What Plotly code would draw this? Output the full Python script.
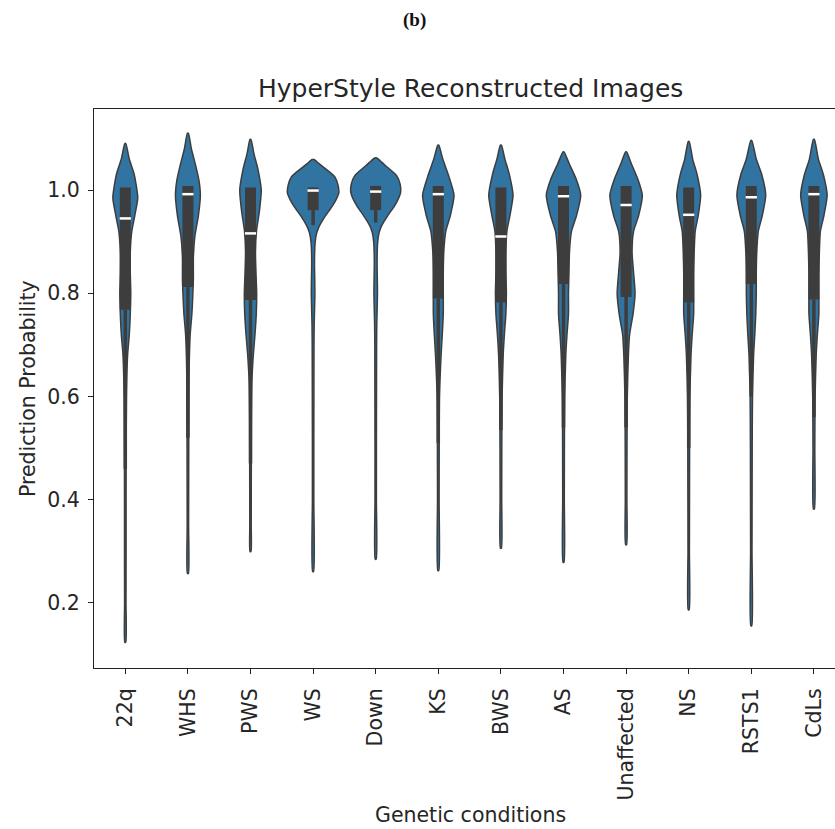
import plotly.graph_objects as go

# ---------------- data ----------------
categories = ["22q", "WHS", "PWS", "WS", "Down", "KS", "BWS", "AS",
              "Unaffected", "NS", "RSTS1", "CdLs"]

# estimated density profile of each violin: value grid (top -> bottom) and relative density
profile_values = [
    [1.090, 1.06, 1.03, 0.985, 0.95, 0.92, 0.88, 0.84, 0.80, 0.76, 0.72, 0.68, 0.60, 0.50, 0.40, 0.30, 0.20, 0.124],
    [1.110, 1.08, 1.05, 1.02, 0.99, 0.95, 0.91, 0.87, 0.83, 0.80, 0.76, 0.72, 0.65, 0.55, 0.45, 0.35, 0.257],
    [1.098, 1.07, 1.04, 1.00, 0.96, 0.92, 0.88, 0.84, 0.80, 0.76, 0.72, 0.68, 0.63, 0.55, 0.45, 0.35, 0.300],
    [1.059, 1.051, 1.045, 1.026, 1.010, 0.994, 0.981, 0.968, 0.949, 0.929, 0.916, 0.897, 0.86, 0.82, 0.80, 0.78, 0.74, 0.70, 0.60, 0.50, 0.40, 0.261],
    [1.062, 1.054, 1.047, 1.028, 1.012, 0.995, 0.982, 0.968, 0.950, 0.931, 0.918, 0.899, 0.86, 0.82, 0.80, 0.78, 0.74, 0.70, 0.60, 0.50, 0.40, 0.285],
    [1.087, 1.06, 1.03, 0.99, 0.95, 0.92, 0.88, 0.84, 0.80, 0.76, 0.72, 0.68, 0.60, 0.50, 0.40, 0.263],
    [1.087, 1.06, 1.03, 0.99, 0.95, 0.92, 0.88, 0.84, 0.80, 0.76, 0.72, 0.68, 0.60, 0.50, 0.40, 0.306],
    [1.074, 1.05, 1.02, 0.99, 0.95, 0.92, 0.88, 0.84, 0.80, 0.76, 0.72, 0.68, 0.60, 0.50, 0.40, 0.279],
    [1.074, 1.05, 1.02, 0.99, 0.95, 0.92, 0.88, 0.84, 0.80, 0.76, 0.72, 0.68, 0.60, 0.50, 0.40, 0.313],
    [1.094, 1.06, 1.03, 0.99, 0.95, 0.92, 0.88, 0.84, 0.80, 0.76, 0.72, 0.68, 0.60, 0.50, 0.40, 0.30, 0.187],
    [1.096, 1.06, 1.03, 0.99, 0.95, 0.92, 0.88, 0.84, 0.80, 0.76, 0.72, 0.68, 0.60, 0.50, 0.40, 0.30, 0.156],
    [1.098, 1.06, 1.03, 0.99, 0.95, 0.92, 0.88, 0.84, 0.80, 0.76, 0.72, 0.68, 0.60, 0.50, 0.382],
]
profile_density = [
    [0.5, 4, 9, 12.5, 9.5, 6.5, 5, 5, 5.5, 5, 4, 2.3, 1.2, 0.9, 0.8, 0.8, 0.7, 0.5],
    [0.5, 3.5, 7.5, 11, 12.5, 10.5, 7, 5.5, 5.5, 5, 4, 2.3, 1.2, 0.9, 0.8, 0.7, 0.5],
    [0.5, 3.5, 7.5, 10.8, 9, 6, 5, 5.5, 6.2, 5.8, 4.5, 2.8, 1.4, 0.9, 0.8, 0.7, 0.5],
    [1, 6, 10, 21.7, 25, 25.8, 23, 19, 12, 6, 3.5, 2.0, 1.4, 1.7, 1.8, 1.6, 1.1, 0.9, 0.8, 0.7, 0.7, 0.5],
    [1, 6, 10, 21, 24.5, 25, 22.5, 18.5, 12, 6, 3.5, 2.0, 1.4, 1.7, 1.8, 1.6, 1.1, 0.9, 0.8, 0.7, 0.7, 0.5],
    [0.5, 4.5, 10, 15.8, 12, 7.5, 5.5, 5, 5, 5, 4, 2.8, 1.2, 0.9, 0.8, 0.5],
    [0.5, 4, 8.5, 12.2, 9, 6, 5, 5, 5.5, 5, 3.5, 2.3, 1.2, 0.9, 0.8, 0.5],
    [0.5, 6, 13, 17.3, 13, 8, 6, 5.5, 5, 5, 3.5, 2.3, 1.2, 0.9, 0.8, 0.5],
    [0.5, 5.5, 12, 16.3, 12.5, 7.5, 6, 7.5, 9, 7, 3.5, 2.3, 1.2, 0.9, 0.8, 0.5],
    [0.5, 4, 8.5, 12, 9.5, 6.5, 5.5, 5, 5, 5, 3.5, 2.3, 1.2, 0.9, 0.8, 0.7, 0.5],
    [0.5, 5, 10.5, 14.5, 11, 7, 5.5, 5, 5, 4.5, 3.5, 2.3, 1.2, 0.9, 0.8, 0.7, 0.5],
    [0.5, 4.5, 9.5, 13.3, 10, 6.5, 5.5, 5, 5, 5, 3.5, 2.3, 1.2, 0.9, 0.5],
]

q1 = [0.768, 0.812, 0.787, 0.961, 0.961, 0.790, 0.782, 0.818, 0.793, 0.782, 0.818, 0.788]
median = [0.945, 0.992, 0.916, 0.999, 0.997, 0.992, 0.910, 0.988, 0.971, 0.952, 0.986, 0.992]
q3 = [1.005, 1.008, 1.005, 1.005, 1.008, 1.008, 1.005, 1.008, 1.008, 1.005, 1.008, 1.008]
whisker_low = [0.46, 0.52, 0.47, 0.932, 0.937, 0.51, 0.535, 0.54, 0.54, 0.50, 0.60, 0.56]

y_ticks = [0.2, 0.4, 0.6, 0.8, 1.0]
y_tick_labels = ["0.2", "0.4", "0.6", "0.8", "1.0"]

# ---------------- styling ----------------
VIOLIN_FILL = "#3274a1"
DARK = "#3d3d3d"
TEXT = "#262626"
MAX_HALF_WIDTH = 0.41  # category units for the widest violin
max_density = max(max(d) for d in profile_density)
scale = MAX_HALF_WIDTH / max_density

W, H = 835, 829
PL, PR, PT, PB = 94, 835, 109, 668   # plot area in pixels


def px_to_paper(px, py):
    return (px - PL) / (PR - PL), (PB - py) / (PB - PT)


fig = go.Figure()

for i, cat in enumerate(categories):
    vals = profile_values[i]
    dens = profile_density[i]
    xs = [i + d * scale for d in dens] + [i - d * scale for d in reversed(dens)]
    ys = list(vals) + list(reversed(vals))
    xs.append(xs[0])
    ys.append(ys[0])
    fig.add_trace(go.Scatter(
        x=xs, y=ys, mode="lines", fill="toself", fillcolor=VIOLIN_FILL,
        line=dict(color=DARK, width=1.5, shape="spline", smoothing=0.6),
        hoverinfo="skip", showlegend=False))
    # whisker
    fig.add_trace(go.Scatter(
        x=[i, i], y=[whisker_low[i], q1[i]], mode="lines",
        line=dict(color=DARK, width=3.5), hoverinfo="skip", showlegend=False))
    # box
    fig.add_trace(go.Scatter(
        x=[i, i], y=[q1[i], q3[i]], mode="lines",
        line=dict(color=DARK, width=11), hoverinfo="skip", showlegend=False))
    # median
    fig.add_trace(go.Scatter(
        x=[i], y=[median[i]], mode="markers",
        marker=dict(symbol="line-ew", size=8, line=dict(color="white", width=2.5)),
        hoverinfo="skip", showlegend=False))

font_family = "DejaVu Sans"
bx, by = px_to_paper(414, 20)
tx, ty = px_to_paper(470, 88)
xlx, xly = px_to_paper(470, 815)
ylx, yly = px_to_paper(28, 389)

fig.update_layout(
    width=W, height=H,
    margin=dict(l=PL, r=W - PR, t=PT, b=H - PB),
    paper_bgcolor="white", plot_bgcolor="white",
    font=dict(family=font_family, color=TEXT),
    showlegend=False,
    xaxis=dict(
        range=[-0.5, -0.5 + (PR - PL) / 62.6], tickmode="array",
        tickvals=list(range(len(categories))),
        ticktext=categories, tickangle=-90, showgrid=False, zeroline=False,
        showline=True, linecolor="#222", linewidth=1.2, mirror=True,
        ticks="outside", ticklen=5, tickcolor="#222", tickwidth=1,
        ticklabelstandoff=6,
        tickfont=dict(size=20.5, family=font_family, color=TEXT)),
    yaxis=dict(
        range=[0.074, 1.157], tickmode="array", tickvals=y_ticks, ticktext=y_tick_labels,
        showgrid=False, zeroline=False, showline=True, linecolor="#222", linewidth=1.2,
        ticks="outside", ticklen=5, tickcolor="#222", tickwidth=1,
        ticklabelstandoff=4,
        tickfont=dict(size=20.5, family=font_family, color=TEXT)),
    annotations=[
        dict(text="<b>(b)</b>", x=bx, y=by, xref="paper", yref="paper",
             xanchor="center", yanchor="middle", showarrow=False,
             font=dict(family="Liberation Serif", size=19, color="#111")),
        dict(text="HyperStyle Reconstructed Images", x=tx, y=ty,
             xref="paper", yref="paper", xanchor="center", yanchor="middle",
             showarrow=False, font=dict(family=font_family, size=25, color=TEXT)),
        dict(text="Genetic conditions", x=xlx, y=xly,
             xref="paper", yref="paper", xanchor="center", yanchor="middle",
             showarrow=False, font=dict(family=font_family, size=20.5, color=TEXT)),
        dict(text="Prediction Probability", x=ylx, y=yly,
             xref="paper", yref="paper", xanchor="center", yanchor="middle",
             textangle=-90, showarrow=False,
             font=dict(family=font_family, size=20.5, color=TEXT)),
    ],
)

fig.write_html("out.html", config={"displayModeBar": False},
               post_script="document.body.style.margin='0';document.body.style.overflow='hidden';")
